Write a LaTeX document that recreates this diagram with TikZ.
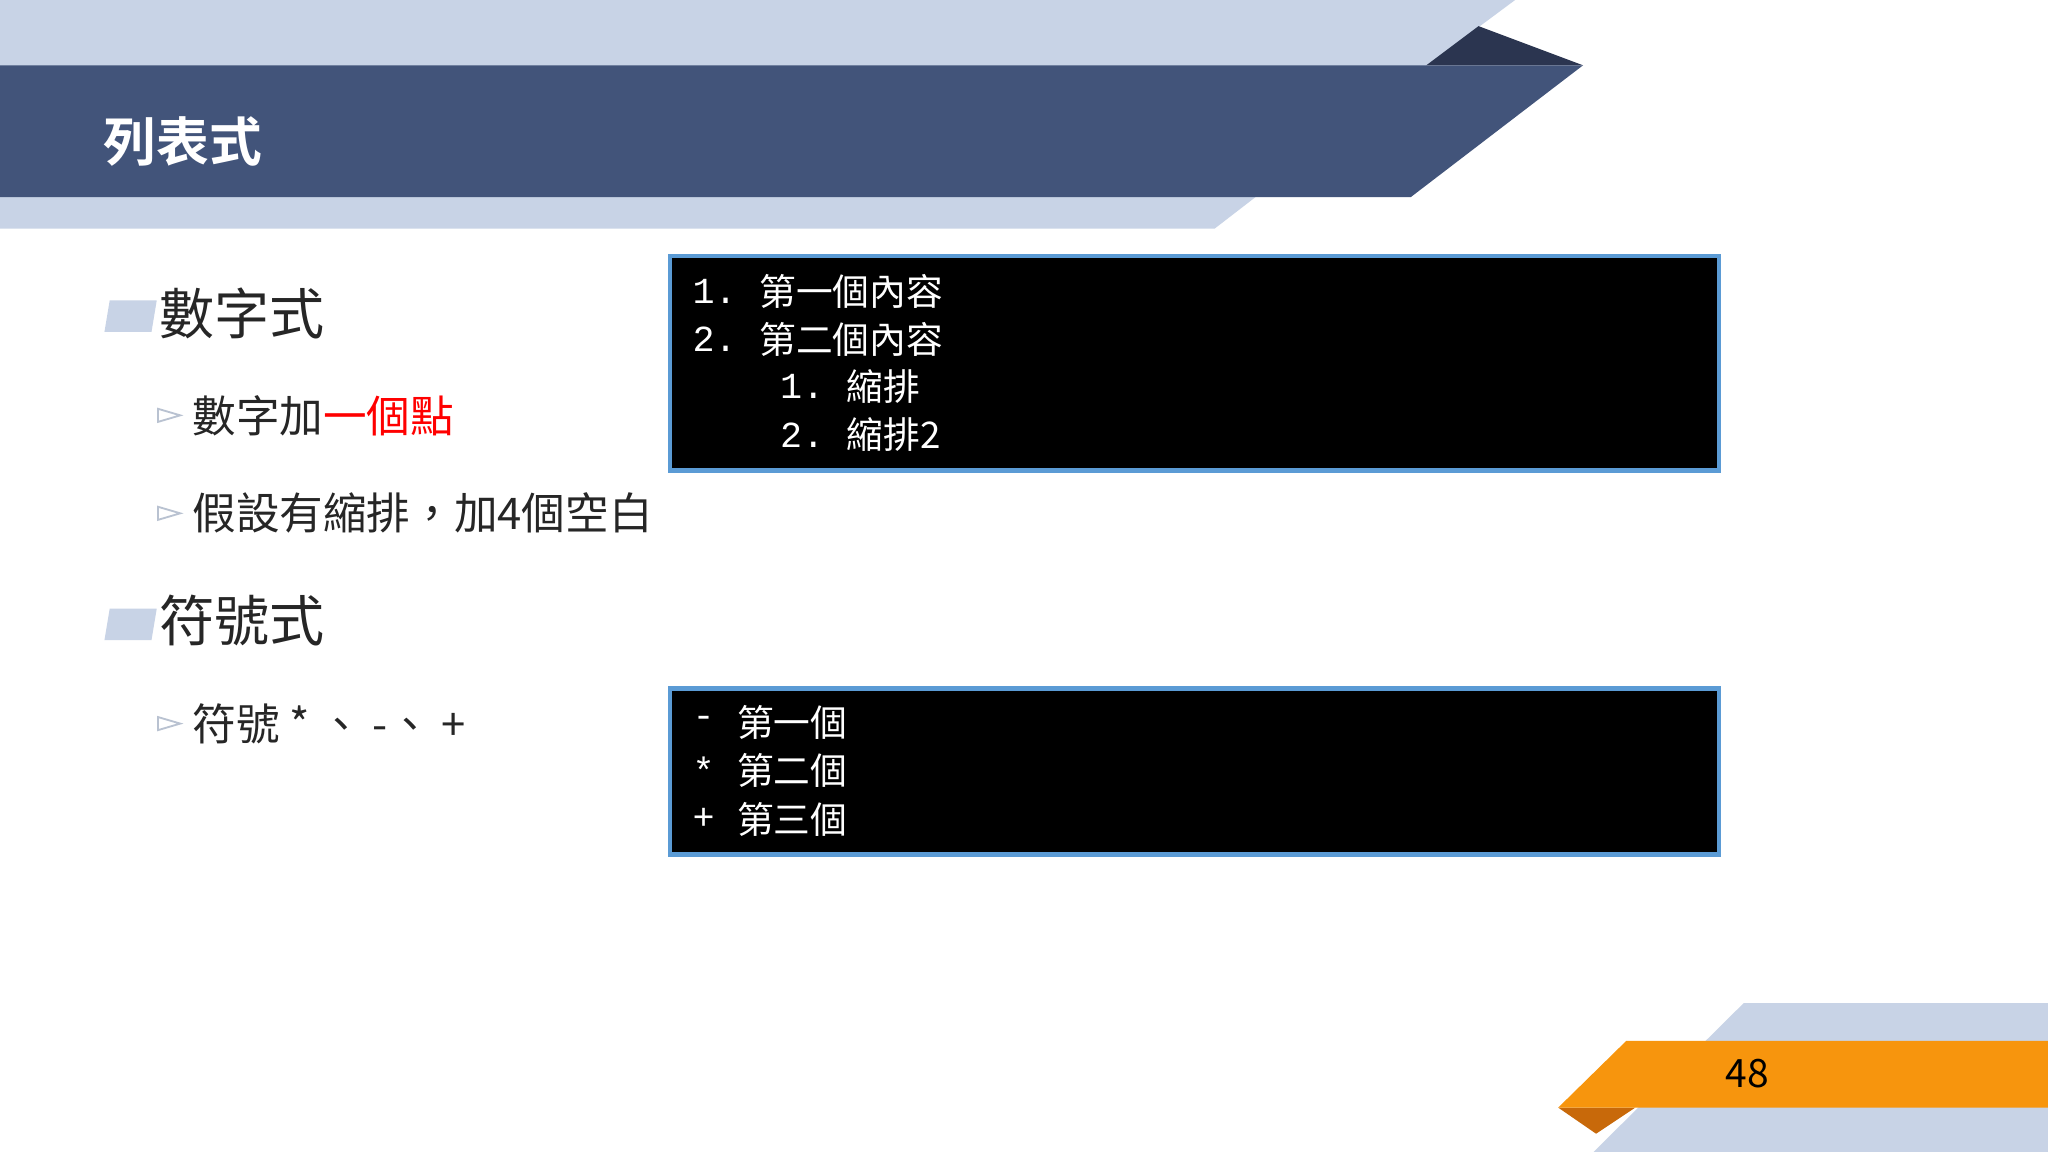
\documentclass[tikz,border=0pt]{standalone}
\usepackage{fontspec}
\setmainfont{Noto Sans CJK TC}
\newfontfamily\cjkb[BoldFont=* Bold]{Noto Sans CJK TC}
\newfontfamily\monof{Liberation Mono}
\definecolor{lightb}{HTML}{C8D3E6}
\definecolor{navy}{HTML}{42547A}
\definecolor{darknavy}{HTML}{2B3550}
\definecolor{boxb}{HTML}{5B9BD5}
\definecolor{orng}{HTML}{F7950D}
\definecolor{dorng}{HTML}{C8690A}
\definecolor{txt}{HTML}{262626}
\tikzset{
 hd/.style={anchor=west,inner sep=0,font=\fontsize{24}{28}\selectfont,text=txt},
 sb/.style={anchor=west,inner sep=0,font=\fontsize{19}{22}\selectfont,text=txt},
 cd/.style={anchor=west,inner sep=0,font=\fontsize{16}{19}\selectfont,text=white},
 cbox/.style={fill=black,draw=boxb,line width=2pt},
 pbul/.style={fill=lightb,draw=none},
 tbul/.style={draw=lightb!80!gray,line width=0.8pt}
}
\begin{document}
\begin{tikzpicture}[x=0.02cm,y=-0.02cm]
\useasboundingbox (0,0) rectangle (1568,882);
\fill[white] (0,0) rectangle (1568,882);
% top bands
\fill[lightb] (0,0)--(1160,0)--(1090,52)--(0,52)--cycle;
\fill[lightb] (0,148)--(965,148)--(930,175)--(0,175)--cycle;
\fill[darknavy] (1092,50)--(1132,20)--(1212,50)--cycle;
\fill[navy] (0,50)--(1212,50)--(1080,151)--(0,151)--cycle;
\node[anchor=west,inner sep=0,text=white,font=\cjkb\bfseries\fontsize{23}{26}\selectfont] (title) at (79,108) {列表式};
% bullets
\fill[pbul] (84,230)--(120,230)--(116,254)--(80,254)--cycle;
\node[hd] (h1) at (122,240) {數字式};
\draw[tbul] (121,313)--(138,318)--(121,323)--cycle;
\node[sb] (s1) at (147,318) {數字加\textcolor{red}{一個點}};
\draw[tbul] (121,388)--(138,393)--(121,398)--cycle;
\node[sb] (s2) at (147,393) {假設有縮排，加4個空白};
\fill[pbul] (84,466)--(120,466)--(116,490)--(80,490)--cycle;
\node[hd] (h2) at (122,475) {符號式};
\draw[tbul] (121,549)--(138,554)--(121,559)--cycle;
\node[sb] (s3) at (147,554) {符號 * 、 -、 +};
% code boxes
\draw[cbox] (513,196) rectangle (1316,360);
\node[cd] (a1) at (530,223) {\monof 1.};
\node[cd] (a1t) at (581,223) {第一個內容};
\node[cd] (a2) at (530,260) {\monof 2.};
\node[cd] (a2t) at (581,260) {第二個內容};
\node[cd] (a3) at (597,296) {\monof 1.};
\node[cd] (a3t) at (648,296) {縮排};
\node[cd] (a4) at (597,333) {\monof 2.};
\node[cd] (a4t) at (648,333) {縮排2};
\draw[cbox] (513,527) rectangle (1316,654);
\node[cd] (b1) at (530,553) {\monof -};
\node[cd] (b1t) at (564,553) {第一個};
\node[cd] (b2) at (530,590) {\monof *};
\node[cd] (b2t) at (564,590) {第二個};
\node[cd] (b3) at (530,627) {\monof +};
\node[cd] (b3t) at (564,627) {第三個};
% bottom right
\fill[lightb] (1335,768)--(1568,768)--(1568,882)--(1220,882)--cycle;
\fill[dorng] (1193,848)--(1252,848)--(1222,868)--cycle;
\fill[orng] (1245,797)--(1568,797)--(1568,848)--(1193,848)--cycle;
\node[inner sep=0,font=\fontsize{17}{20}\selectfont] (pg) at (1338,822) {48};
\end{tikzpicture}
\end{document}
